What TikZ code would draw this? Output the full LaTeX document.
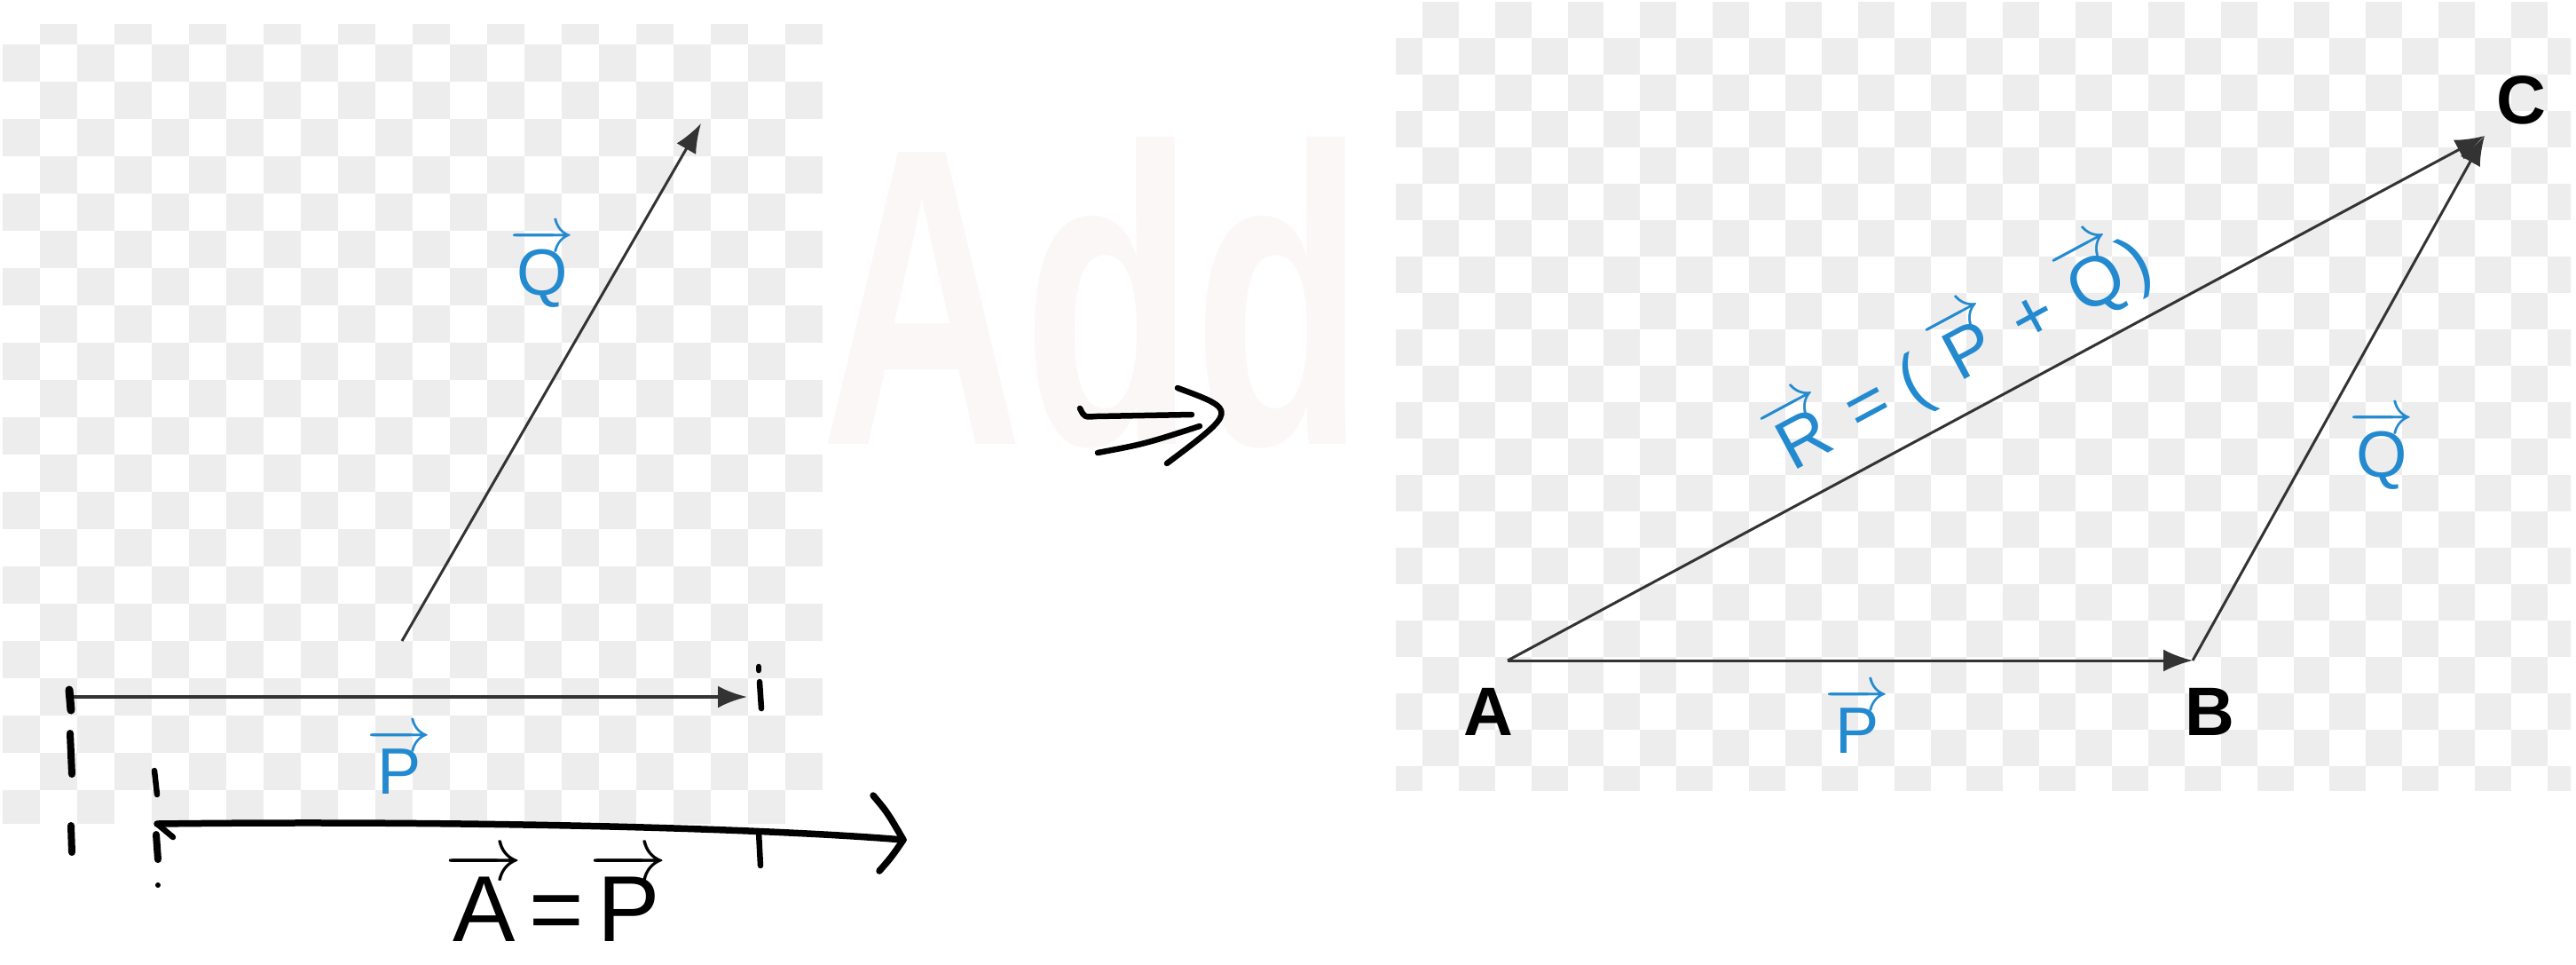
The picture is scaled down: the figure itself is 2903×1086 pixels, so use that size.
\documentclass[tikz,border=0pt]{standalone}
\usepackage{fontspec}
\setmainfont{Liberation Sans}
\usetikzlibrary{positioning, arrows.meta}
\definecolor{lblue}{RGB}{36,138,208}
\definecolor{chk}{RGB}{237,237,237}
\definecolor{wmark}{RGB}{252,247,247}
\newcommand{\vlab}[1]{\ensuremath{\overrightarrow{\mbox{#1}}}}

\begin{document}
\begin{tikzpicture}[x=0.1mm, y=-0.1mm,
vec/.style={draw=black!80, line width=0.3mm, -{Latex[length=3.3mm, width=2.5mm]}},
ink/.style={draw=black, line width=0.65mm, line cap=round, line join=round},
blab/.style={text=lblue, inner sep=0pt, font=\fontsize{21}{25}\selectfont},
vtx/.style={inner sep=0pt, font=\fontsize{22}{26}\selectfont\bfseries},
]
\useasboundingbox (0,0) rectangle (2903,1086);
\fill[white] (0,0) rectangle (2903,1086);

% faint watermark behind the panels
\node[text=wmark, inner sep=0pt, anchor=base, font=\fontsize{136}{140}\selectfont\bfseries] (wm) at (1232,500) {\scalebox{0.66}[1]{Add}};

% checker backgrounds
\begin{scope}
\clip (3,27) rectangle (927,927);
\fill[white] (3,27) rectangle (927,927);
\foreach \j in {0,...,21} {
  \foreach \i in {0,...,21} {
    \pgfmathtruncatemacro\odd{mod(\i+\j,2)}
    \ifnum\odd=1 \fill[chk] (3+42*\i,8+42*\j) rectangle ++(42,42); \fi
  }
}
\end{scope}
\begin{scope}
\clip (1573,0) rectangle (2897,890);
\fill[white] (1573,0) rectangle (2897,890);
\foreach \j in {0,...,21} {
  \foreach \i in {0,...,32} {
    \pgfmathtruncatemacro\odd{mod(\i+\j,2)}
    \ifnum\odd=1 \fill[chk] (1562+40.9*\i,2+41*\j) rectangle ++(40.9,41); \fi
  }
}
\end{scope}

% left: P and Q apart
\coordinate (O)  at (78,785);
\coordinate (Pt) at (842,785);
\coordinate (Qs) at (453,722);
\coordinate (Qt) at (790,139);
\draw[vec, line width=0.4mm] (O) -- (Pt);
\draw[vec] (Qs) -- (Qt);
\node[blab, anchor=base] (pl) at (450,894) {\vlab{P}};
\node[blab, anchor=base] (ql) at (611,332) {\vlab{Q}};

% hand marks
\draw[ink, line width=0.9mm] (78,777) -- (80,800);
\draw[ink, line width=0.8mm] (79,826) -- (81,872);
\draw[ink, line width=0.8mm] (80,930) -- (81,960);
\draw[ink] (174,868) -- (177,895);
\draw[ink, line width=0.8mm] (176,940) -- (178,968);
\fill (178,997) circle (3);
\draw[ink] (855,751) -- (855,755);
\draw[ink] (856,768) -- (858,798);

\coordinate (H0) at (177,928);
\coordinate (H1) at (1018,946);
\draw[ink, line width=0.75mm] (H0) .. controls (500,924) and (850,932) .. (H1);
\draw[ink] (H0) -- (195,943);
\draw[ink, line width=0.75mm] (984,896) .. controls (1000,915) .. (H1) .. controls (1005,965) .. (991,981);
\draw[ink] (855,937) -- (857,975);
\node[inner sep=0pt, anchor=base, font=\fontsize{30}{34}\selectfont] (eq) at (627,1060) {\vlab{A}\kern2pt=\kern2pt\vlab{P}};

% implies
\draw[ink] (1217,460) .. controls (1222,470) .. (1235,469) -- (1343,467);
\draw[ink] (1237,510) .. controls (1290,500) .. (1352,480);
\draw[ink] (1327,437) .. controls (1395,462) .. (1315,522);

% right: triangle law
\coordinate (A) at (1699,744);
\coordinate (B) at (2471,744);
\coordinate (C) at (2800,153);
\draw[vec] (A) -- (B);
\draw[vec] (B) -- (C);
\draw[vec] (A) -- node[blab, sloped, above=5pt, pos=0.49, font=\fontsize{22.5}{26}\selectfont] (rl) {\vlab{R} = ( \vlab{P} + \vlab{Q})} (C);

\node[vtx, anchor=base] (la) at (1677,828) {A};
\node[vtx, anchor=base] (lb) at (2490,828) {B};
\node[vtx, anchor=base] (lc) at (2841,139) {C};
\node[blab, anchor=base] (pr) at (2093,848) {\vlab{P}};
\node[blab, anchor=base] (qr) at (2684,537) {\vlab{Q}};

\end{tikzpicture}
\end{document}
